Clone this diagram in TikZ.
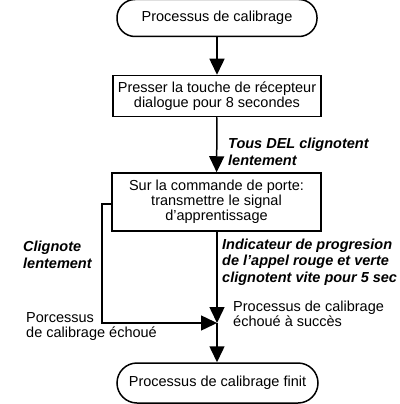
\documentclass[tikz,border=0pt]{standalone}
\usepackage{fontspec}
\setmainfont{Liberation Sans}
\usetikzlibrary{arrows.meta}
\begin{document}
\begin{tikzpicture}[x=1pt,y=-1pt,
  every node/.style={font=\fontsize{14.5}{15}\selectfont},
  term/.style={draw, line width=1.5pt, rounded corners=18pt, minimum width=200pt, minimum height=37pt, inner sep=0pt},
  procbox/.style={draw, line width=1.5pt, align=center, inner sep=0pt},
  lbl/.style={align=left, inner sep=0pt, anchor=west, font=\fontsize{14.5}{16.5}\selectfont\bfseries\itshape},
  plainlbl/.style={align=left, inner sep=0pt, anchor=west},
  flow/.style={line width=1.5pt, -{Triangle[length=16pt,width=15pt]}},
]
\useasboundingbox (0,0) rectangle (399,404);
\node[term] (start) at (217,18) {Processus de calibrage};
\node[procbox, minimum width=208pt, minimum height=41pt] (press) at (217,96) {Presser la touche de récepteur\\dialogue pour 8 secondes};
\node[procbox, minimum width=209pt, minimum height=58pt] (send) at (216.5,202) {Sur la commande de porte:\\transmettre le signal\\d’apprentissage};
\coordinate (j) at (217,323);
\coordinate (c1) at (102,204);
\coordinate (c2) at (102,323);
\node[term, minimum width=201pt, minimum height=40pt, rounded corners=20pt] (end) at (217.5,383) {Processus de calibrage finit};
\draw[flow] (start) -- (press);
\draw[flow] (press) -- (send);
\draw[flow] (send.south -| j) -- (j);
\draw[flow] (send.west |- c1) -- (c1) -- (c2) -- (j);
\draw[flow] (j) -- (end.north -| j);
\node[lbl] (l1) at (228,152) {Tous DEL clignotent\\lentement};
\node[lbl] (l2) at (23,255) {Clignote\\lentement};
\node[lbl] (l3) at (222,262) {Indicateur de progresion\\de l’appel rouge et verte\\clignotent vite pour 5 sec};
\node[plainlbl] (l4) at (233,314) {Processus de calibrage\\échoué à succès};
\node[plainlbl] (l5) at (26,327) {Porcessus\\de calibrage échoué};
\end{tikzpicture}
\end{document}
